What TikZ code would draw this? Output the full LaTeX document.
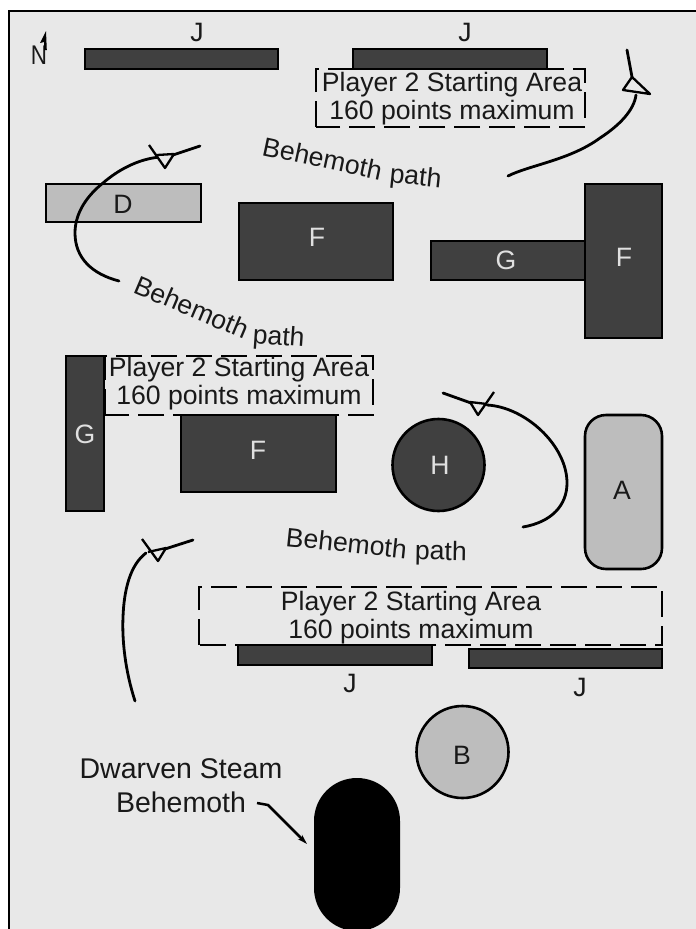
\documentclass[tikz,border=0pt]{standalone}
\usepackage{fontspec}
\setmainfont{Liberation Sans}
\usetikzlibrary{arrows.meta}
\tikzset{
  x=1pt,y=-1pt,
  lab/.style={font=\fontsize{26.6}{28}\selectfont,text=black!90,inner sep=0pt,align=center},
  big/.style={font=\fontsize{28.5}{34}\selectfont,text=black!90,inner sep=0pt,align=center},
  wlab/.style={lab,text=black!12},
  dark/.style={draw=black,line width=2.6pt,fill=black!75},
  light/.style={draw=black,line width=2.6pt,fill=black!26},
  dbox/.style={draw=black,line width=2.6pt,dash pattern=on 26pt off 9pt},
  bpath/.style={draw=black,line width=2.8pt,line cap=round},
  bhead/.style={draw=black,line width=2.3pt,fill=black!9,line join=round},
  curved label/.style={lab,anchor=base west},
}
\begin{document}
\begin{tikzpicture}
\useasboundingbox (0,0) rectangle (696,929);
\fill[white] (0,0) rectangle (696,929);
\fill[black!9] (8,11) rectangle (696,929);
\draw[line width=2.8pt] (9,929) -- (9,11) -- (696,11);
% dashed areas
\draw[dbox] (316,127) -- (316,69) -- (585,69) -- (585,127) -- cycle;
\draw[dbox] (105,415) -- (105,356) -- (373,356) -- (373,415) -- cycle;
\draw[dbox] (199,645) -- (199,587) -- (662,587) -- (662,645) -- cycle;
% rectangles
\draw[dark] (85,49) rectangle (278,69);
\draw[dark] (353,49) rectangle (547,69);
\draw[light] (46,184) rectangle (201,222);
\draw[dark] (239,203) rectangle (393,280);
\draw[dark] (431,241) rectangle (585,280);
\draw[dark] (585,184) rectangle (662,338);
\draw[dark] (66,356) rectangle (104,511);
\draw[dark] (181,415) rectangle (336,492);
\draw[dark] (238,645) rectangle (432,665);
\draw[dark] (469,649) rectangle (662,668);
\draw[light,rounded corners=21pt] (585,415) rectangle (662,569);
\draw[dark] (438.5,465) circle[radius=46];
\draw[light] (462.5,752) circle[radius=46];
\fill[black,rounded corners=42.9pt] (314,778) rectangle (400,931);
\coordinate (behemoth) at (307,844);
% behemoth paths
\draw[bpath] (119,281) .. controls (92,274) and (75,258) .. (75,233) .. controls (75,212) and (88,195) .. (103,183) .. controls (118,170) and (138,159) .. (160,157);
\draw[bhead] (149,145) -- (165,168) -- (174,154) -- (157,155);
\draw[bpath] (173,155) -- (200,146);
\draw[bpath] (508,176) .. controls (530,165) and (570,160) .. (600,138) .. controls (620,125) and (634,110) .. (636,95);
\draw[bhead] (632,77) -- (623,90) -- (650,94) -- cycle;
\draw[bpath] (627,50) -- (632,77);
\draw[bpath] (523,527) .. controls (552,522) and (567,505) .. (567,483) .. controls (567,445) and (525,407) .. (487,405);
\draw[bhead] (494,392) -- (478,415) -- (470,402) -- (487,404);
\draw[bpath] (443,393) -- (471,403);
\draw[bpath] (135,701) .. controls (125,670) and (122,640) .. (123,617) .. controls (124,590) and (130,565) .. (146,553);
\draw[bhead] (142,539) -- (158,561) -- (166,548) -- (148,552);
\draw[bpath] (165,549) -- (193,540);
% north
\node[inner sep=0pt,text=black!90,font=\fontsize{27}{28}\selectfont,xscale=.83] (north) at (39,55.5) {N};
\fill[black] (46,31) -- (46.8,50) -- (44.2,50) -- (44.2,42) -- (40,43) -- cycle;
% labels
\node[lab] (j1) at (197,32) {J};
\node[lab] (j2) at (465,32) {J};
\node[lab] (j3) at (350,683) {J};
\node[lab] (j4) at (580,687) {J};
\node[lab] (d) at (123,204) {D};
\node[wlab] (f1) at (317,237) {F};
\node[wlab] (g1) at (506,260) {G};
\node[wlab] (f2) at (624,257) {F};
\node[wlab] (g2) at (85,434) {G};
\node[wlab] (f3) at (258,450) {F};
\node[wlab] (h) at (440,465) {H};
\node[lab] (a) at (622,490) {A};
\node[lab] (b) at (462,755) {B};
\node[lab] (s1) at (452,99) {Player 2 Starting Area\\160 points maximum};
\node[lab] (s2) at (239,384) {Player 2 Starting Area\\160 points maximum};
\node[lab] (s3) at (411,618) {Player 2 Starting Area\\160 points maximum};
\node[curved label,rotate=-12] (p1) at (261,155) {Behemoth \rotatebox{6}{path}};
\node[curved label,rotate=-23] (p2) at (132,292) {Behemoth\hspace{3pt}\rotatebox{19}{path}};
\node[curved label,rotate=-6] (p3) at (285,546) {Behemoth \rotatebox{5}{path}};
\node[big] (dw) at (181,785.5) {Dwarven Steam\\Behemoth};
\coordinate (lead) at (257,803);
\draw[line width=2.5pt,-{Stealth[length=10pt,width=6pt]}] (lead) -- (268,805) -- (behemoth);
\end{tikzpicture}
\end{document}
